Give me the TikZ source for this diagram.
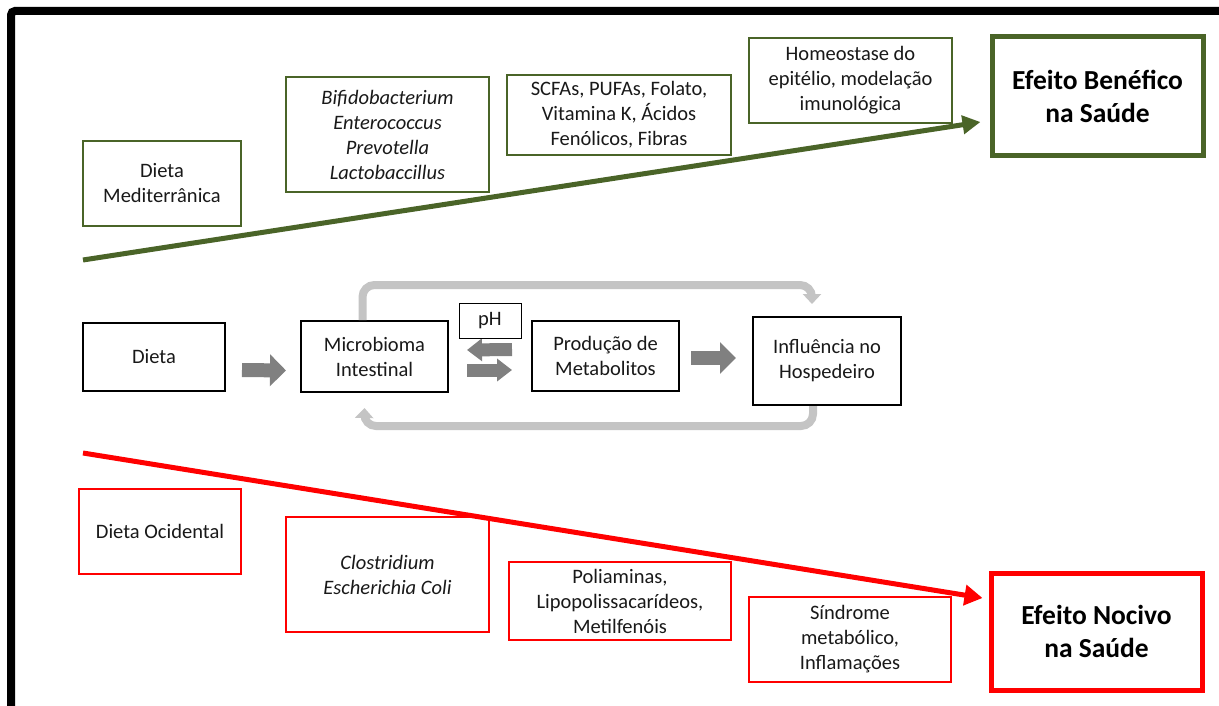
\documentclass[tikz,border=0pt]{standalone}
\usepackage{fontspec}
\setmainfont{Carlito}
\usetikzlibrary{arrows.meta}
\definecolor{dgreen}{HTML}{4A6428}
\definecolor{ared}{HTML}{FF0000}
\definecolor{agray}{HTML}{808080}
\definecolor{lgray}{HTML}{C4C4C4}
\begin{document}
\begin{tikzpicture}[x=1pt,y=-1pt,
  txt/.style={font=\fontsize{20.5}{25}\selectfont, align=center, text=black!90, inner sep=0pt},
  gbox/.style={txt, draw=dgreen, line width=2pt},
  rbox/.style={txt, draw=ared, line width=2pt},
  kbox/.style={txt, draw=black, line width=2pt},
  bigbox/.style={font=\fontsize{27.5}{33}\selectfont\bfseries, align=center, inner sep=0pt, line width=5pt},
  blockarrow/.style={draw=agray, line width=14pt, -{Triangle[length=16pt,width=31pt]}},
  smallarrow/.style={draw=agray, line width=13pt, -{Triangle[length=15pt,width=22pt]}},
  loopline/.style={draw=lgray, line width=8pt, rounded corners=12pt, -{Triangle[length=10pt,width=18pt]}},
  trend/.style={line width=5pt}
]
\useasboundingbox (0,0) rectangle (1219,706);
\fill[white] (0,0) rectangle (1219,706);
% frame
\draw[line width=8pt, rounded corners=4pt] (11,720) -- (11,11) -- (1230,11);

% green (beneficial) row
\node[gbox, minimum width=158pt, minimum height=85pt] (med) at (162,183.5) {Dieta\\Mediterrânica};
\node[gbox, minimum width=203pt, minimum height=115pt, font=\fontsize{20.5}{25}\selectfont\itshape] (bif) at (387.5,134.5) {Bifidobacterium\\Enterococcus\\Prevotella\\Lactobaccillus};
\node[gbox, minimum width=224pt, minimum height=80pt] (scfa) at (619,115) {SCFAs, PUFAs, Folato,\\Vitamina K, Ácidos\\Fenólicos, Fibras};
\node[gbox, minimum width=203pt, minimum height=85pt] (homeo) at (850.5,80.5) {Homeostase do\\epitélio, modelação\\imunológica};
\node[bigbox, draw=dgreen, minimum width=211pt, minimum height=119pt] (ben) at (1097.5,96.5) {Efeito Benéfico\\na Saúde};
\coordinate (gstart) at (83,260);
\draw[trend, draw=dgreen, -{Triangle[length=18pt,width=18pt]}] (gstart) -- ([xshift=-9pt,yshift=-25.5pt]ben.west);

% middle row
\node[kbox, minimum width=142pt, minimum height=68pt] (dieta) at (154,357) {Dieta};
\node[kbox, minimum width=147pt, minimum height=71pt] (micro) at (374.5,356.5) {Microbioma\\Intestinal};
\node[kbox, minimum width=147pt, minimum height=70pt] (prod) at (605.5,356) {Produção de\\Metabolitos};
\node[kbox, minimum width=148pt, minimum height=88pt] (infl) at (827,361) {Influência no\\Hospedeiro};

\draw[blockarrow] ([yshift=-13pt,xshift=16pt]dieta.east) -- ([yshift=-14pt,xshift=-14pt]micro.west);
\draw[smallarrow] ([yshift=6.5pt,xshift=-19pt]prod.west) -- ([yshift=6.5pt,xshift=18pt]micro.east);
\draw[smallarrow] ([yshift=-13.5pt,xshift=18pt]micro.east) -- ([yshift=-14pt,xshift=-19pt]prod.west);
\draw[blockarrow] ([yshift=-2pt,xshift=11pt]prod.east) -- ([yshift=3pt,xshift=-16pt]infl.west);
\node[txt, draw=black, line width=1pt, fill=white, minimum width=62pt, minimum height=35pt] (ph) at (490,320.5) {pH};

\draw[loopline] ([xshift=-12pt]micro.north) |- (812,285) -- ([xshift=-15pt,yshift=12pt]infl.north);
\draw[loopline] ([xshift=-14pt]infl.south) |- (364,426) -- ([xshift=-10pt,yshift=-15pt]micro.south);

% red (harmful) row
\node[rbox, minimum width=162pt, minimum height=85pt] (oci) at (160,531.5) {Dieta Ocidental};
\node[rbox, minimum width=203pt, minimum height=115pt, font=\fontsize{20.5}{25}\selectfont\itshape] (clo) at (387.5,574.5) {Clostridium\\Escherichia Coli};
\node[rbox, minimum width=222pt, minimum height=78pt] (poli) at (620,601) {Poliaminas,\\Lipopolissacarídeos,\\Metilfenóis};
\node[rbox, minimum width=202pt, minimum height=85pt] (sind) at (850,639.5) {Síndrome\\metabólico,\\Inflamações};
\node[bigbox, draw=ared, minimum width=211pt, minimum height=117pt] (noc) at (1096.5,631.5) {Efeito Nocivo\\na Saúde};
\coordinate (rstart) at (83,453);
\draw[trend, draw=ared, -{Triangle[length=18pt,width=20pt]}] (rstart) -- ([xshift=-6pt,yshift=33.5pt]noc.west);
\end{tikzpicture}
\end{document}
